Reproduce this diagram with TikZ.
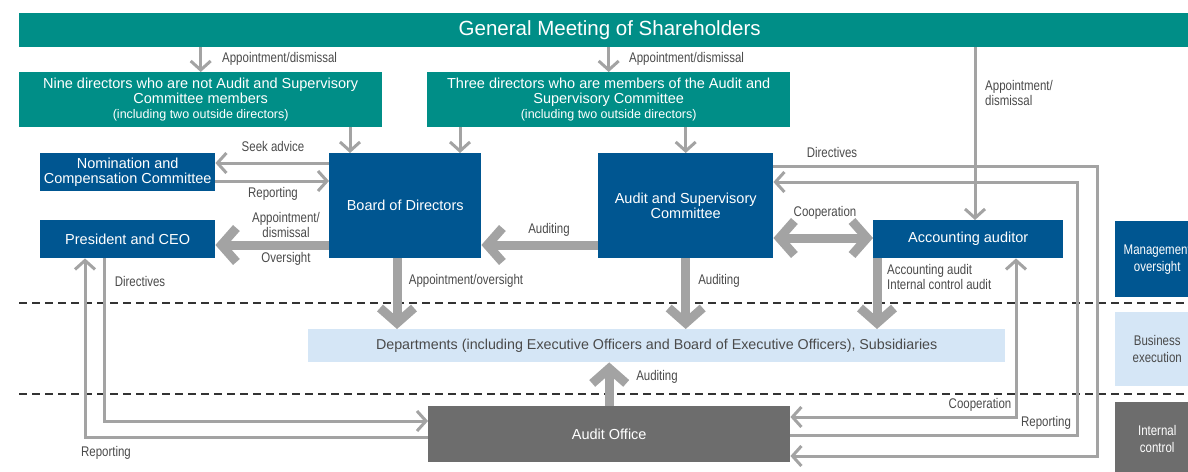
\documentclass[tikz,border=0pt]{standalone}
\usepackage{fontspec}
\setmainfont{Liberation Sans}
\newfontfamily\narrowfont{Liberation Sans}[FakeStretch=0.82]
\usetikzlibrary{arrows.meta}
\definecolor{gmsteal}{RGB}{0,142,135}
\definecolor{boardblue}{RGB}{0,86,145}
\definecolor{execblue}{RGB}{213,230,246}
\definecolor{auditgray}{RGB}{109,109,109}
\definecolor{linkgray}{RGB}{163,163,163}
\definecolor{labelgray}{RGB}{74,74,74}

\begin{document}
\begin{tikzpicture}[x=1pt,y=1pt,yscale=-1,
  box/.style={anchor=north west,inner sep=2pt,align=center,text=white,font=\fontsize{14.5}{15}\selectfont},
  tealbox/.style={box,fill=gmsteal},
  bluebox/.style={box,fill=boardblue},
  legendbox/.style={box,minimum width=84pt,font=\narrowfont\fontsize{14}{17}\selectfont},
  lbl/.style={inner sep=0pt,text=labelgray,font=\narrowfont\fontsize{14}{15.5}\selectfont},
  thin link/.style={draw=linkgray,line width=3pt,-{Straight Barb[length=9pt,width=20pt]}},
  thick link/.style={draw=linkgray,line width=9pt,-{Straight Barb[length=15pt,width=34pt]}},
  zone/.style={draw=black!80,line width=1.6pt,dash pattern=on 8pt off 5pt}]
\useasboundingbox (0,0) rectangle (1188,471);
\clip (0,0) rectangle (1188,471);

%Shape: Rectangle
\node[tealbox,minimum width=1181pt,minimum height=34pt,font=\fontsize{20.5}{22}\selectfont] (gms) at (19,13) {General Meeting of Shareholders};
\node[tealbox,minimum width=363pt,minimum height=55pt] (nine) at (19,72) {Nine directors who are not Audit and Supervisory\\Committee members\\{\fontsize{12.5}{13}\selectfont (including two outside directors)}};
\node[tealbox,minimum width=363pt,minimum height=55pt] (three) at (427,72) {Three directors who are members of the Audit and\\Supervisory Committee\\{\fontsize{12.5}{13}\selectfont (including two outside directors)}};
\node[bluebox,minimum width=175pt,minimum height=38pt] (nomcomp) at (40,153) {Nomination and\\Compensation Committee};
\node[bluebox,minimum width=175pt,minimum height=38pt] (ceo) at (40,220) {President and CEO};
\node[bluebox,minimum width=152pt,minimum height=105pt] (board) at (329,153) {Board of Directors};
\node[bluebox,minimum width=175pt,minimum height=105pt] (asc) at (598,153) {Audit and Supervisory\\Committee};
\node[bluebox,minimum width=190pt,minimum height=38pt] (accaud) at (873,220) {Accounting auditor};
\node[box,fill=execblue,text=labelgray,minimum width=697pt,minimum height=33pt,font=\fontsize{14.3}{15}\selectfont] (depts) at (308,329) {Departments (including Executive Officers and Board of Executive Officers), Subsidiaries};
\node[box,fill=auditgray,minimum width=362pt,minimum height=56pt] (auditoff) at (428,406) {Audit Office};

%Shape: Rectangle (legend)
\node[legendbox,fill=boardblue,minimum height=76pt] (mgmt) at (1115,221) {Management\\oversight};
\node[legendbox,fill=execblue,text=labelgray,minimum height=74pt] (bizexec) at (1115,312) {Business\\execution};
\node[legendbox,fill=auditgray,minimum height=74pt] (intctl) at (1115,402) {Internal\\control};

%Straight Lines (dashed)
\draw[zone] (19,303) -- (1188,303);
\draw[zone] (19,394) -- (1188,394);

%Straight Lines
\draw[thin link] (nine.north |- gms.south) -- (nine.north);
\draw[thin link] (three.north |- gms.south) -- (three.north);
\draw[thin link] (nine.south -| 350,0) -- (board.north -| 350,0);
\draw[thin link] (three.south -| 460,0) -- (board.north -| 460,0);
\draw[thin link] (three.south -| asc.north) -- (asc.north);
\draw[thin link] (board.west |- 0,163) -- (nomcomp.east |- 0,163);
\draw[thin link] (nomcomp.east |- 0,181) -- (board.west |- 0,181);
\draw[thick link] (board.west |- 0,245) -- (ceo.east |- 0,245);
\draw[thick link] (asc.west |- 0,245) -- (board.east |- 0,245);
\draw[thick link,{Straight Barb[length=15pt,width=34pt]}-{Straight Barb[length=15pt,width=34pt]}] (asc.east |- 0,238) -- (accaud.west |- 0,238);
\draw[thick link] (board.south -| 397,0) -- (depts.north -| 397,0);
\draw[thick link] (asc.south) -- (depts.north -| asc.south);
\draw[thick link] (accaud.south -| 877,0) -- (depts.north -| 877,0);
\draw[thick link] (auditoff.north) -- (depts.south -| auditoff.north);
\draw[thin link] (ceo.south -| 104,0) |- (auditoff.west |- 0,421);
\draw[thin link] (auditoff.west |- 0,437) -| (ceo.south -| 85,0);
\draw[thin link,{Straight Barb[length=9pt,width=20pt]}-{Straight Barb[length=9pt,width=20pt]}] (accaud.south -| 1016,0) |- (auditoff.east |- 0,417);
\draw[thin link] (auditoff.east |- 0,435) -| (1077,182) -- (asc.east |- 0,182);
\draw[thin link] (asc.east |- 0,166) -| (1097,456) -- (auditoff.east |- 0,456);
\draw[thin link] (gms.south -| 975,0) -- (accaud.north -| 975,0);

% Text Node
\node[lbl,anchor=west] (apptnine) at (222,59) {Appointment/dismissal};
\node[lbl,anchor=west] (apptthree) at (629,59) {Appointment/dismissal};
\node[lbl,anchor=north west,align=left] (apptacc) at (985,80) {Appointment/\\dismissal};
\node[lbl] (seekadv) at (273,146) {Seek advice};
\node[lbl] (repnom) at (273,194) {Reporting};
\node[lbl,align=center] (apptceo) at (286,225) {Appointment/\\dismissal};
\node[lbl] (oversight) at (286,259) {Oversight};
\node[lbl] (dirceo) at (140,281) {Directives};
\node[lbl] (audboard) at (549,230) {Auditing};
\node[lbl] (apptover) at (466,281) {Appointment/oversight};
\node[lbl] (auddepts) at (719,281) {Auditing};
\node[lbl] (dirasc) at (832,152) {Directives};
\node[lbl] (coopacc) at (825,213) {Cooperation};
\node[lbl,anchor=north west,align=left] (accaudit) at (887,264) {Accounting audit\\Internal control audit};
\node[lbl] (audoff) at (657,377) {Auditing};
\node[lbl] (coopoff) at (980,405) {Cooperation};
\node[lbl] (repasc) at (1046,423) {Reporting};
\node[lbl] (repceo) at (106,453) {Reporting};

\end{tikzpicture}
\end{document}
